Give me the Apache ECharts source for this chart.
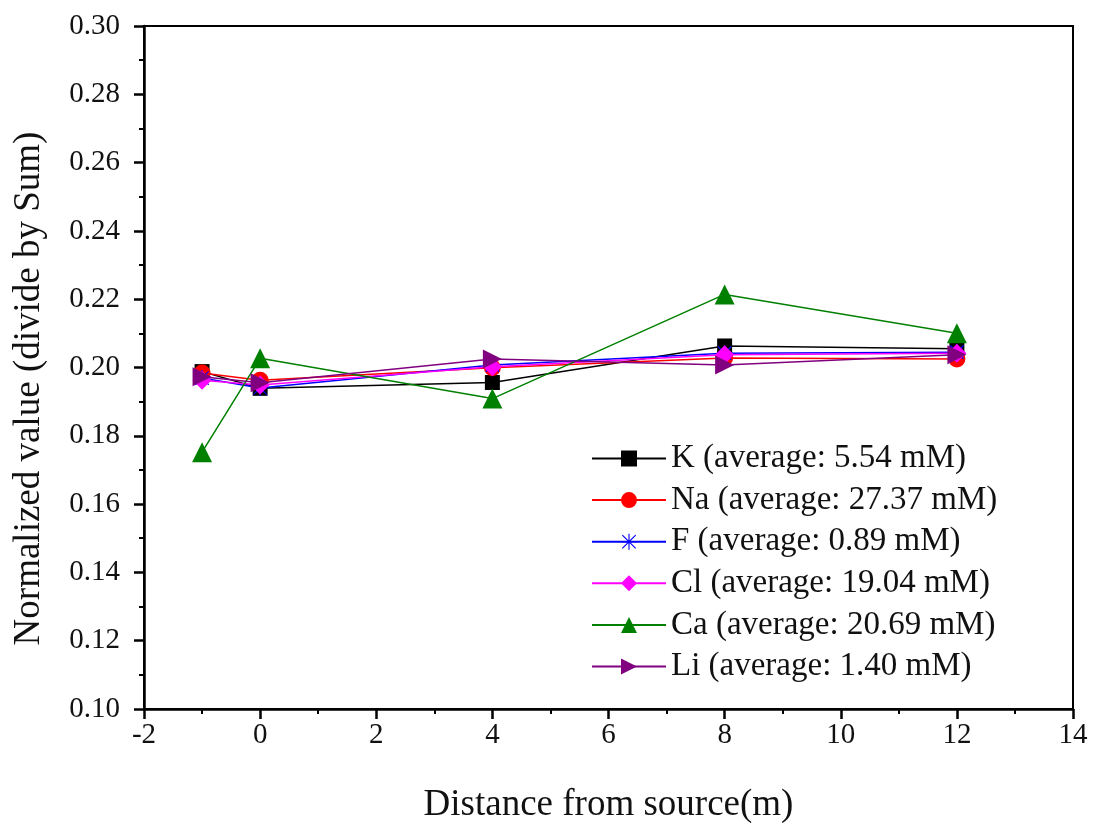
<!DOCTYPE html>
<html>
<head>
<meta charset="utf-8">
<script src="https://cdn.jsdelivr.net/npm/echarts@6/dist/echarts.min.js"></script>
<style>
  html, body { margin: 0; padding: 0; background: #fff; }
  #chart { width: 1093px; height: 823px; }
</style>
</head>
<body>
<div id="chart"></div>
<script>
// distance from source (m)
const distances = [-1, 0, 4, 8, 12];

const seriesNames = [
  "K (average: 5.54 mM)",
  "Na (average: 27.37 mM)",
  "F (average: 0.89 mM)",
  "Cl (average: 19.04 mM)",
  "Ca (average: 20.69 mM)",
  "Li (average: 1.40 mM)",
];

// normalized values
const kValues = [0.1988, 0.1939, 0.1956, 0.2063, 0.2055];
const naValues = [0.1984, 0.1963, 0.1999, 0.2028, 0.2025];
const fValues = [0.1969, 0.1940, 0.2007, 0.2042, 0.2045];
const clValues = [0.1963, 0.1949, 0.2002, 0.2037, 0.2042];
const caValues = [0.1752, 0.2027, 0.1909, 0.2214, 0.2100];
const liValues = [0.1973, 0.1955, 0.2025, 0.2007, 0.2037];

const FONT = "Liberation Serif";
const asterisk =
  "path://M9.3 0L10.7 0L10.7 20L9.3 20Z M0 9.3L20 9.3L20 10.7L0 10.7Z " +
  "M1.2 2.2L2.2 1.2L18.8 17.8L17.8 18.8Z M17.8 1.2L18.8 2.2L2.2 18.8L1.2 17.8Z";

function pairs(vals) {
  return distances.map((d, i) => [d, vals[i]]);
}

function line(name, vals, color, symbol, size) {
  return {
    name,
    type: "line",
    data: pairs(vals),
    symbol,
    symbolSize: size,
    lineStyle: { color, width: 1.5 },
    itemStyle: { color },
    z: 3,
  };
}

const chart = echarts.init(document.getElementById("chart"));
chart.setOption({
  animation: false,
  textStyle: { fontFamily: FONT },
  grid: {
    left: 144, right: 20, top: 26, bottom: 114,
    outerBoundsMode: "none",
    show: true, borderColor: "#000", borderWidth: 2,
  },
  legend: {
    orient: "vertical",
    left: 586,
    top: 437,
    itemWidth: 74,
    itemHeight: 20,
    itemGap: 8.6,
    textStyle: { fontFamily: FONT, fontSize: 33, color: "#111" },
    data: seriesNames,
  },
  xAxis: {
    type: "value",
    min: -2, max: 14, interval: 2,
    name: "Distance from source(m)",
    nameLocation: "middle",
    nameGap: 78,
    nameTextStyle: { fontFamily: FONT, fontSize: 37, color: "#111" },
    axisLine: { onZero: false, lineStyle: { color: "#000", width: 2.5 } },
    axisTick: { length: 10, lineStyle: { color: "#000", width: 2.5 } },
    minorTick: { show: true, splitNumber: 2, length: 5, lineStyle: { color: "#000", width: 2 } },
    splitLine: { show: false },
    axisLabel: { fontSize: 29, color: "#111", margin: 12, fontFamily: FONT },
  },
  yAxis: {
    type: "value",
    min: 0.1, max: 0.3, interval: 0.02,
    name: "Normalized value (divide by Sum)",
    nameLocation: "middle",
    nameGap: 96,
    nameTextStyle: { fontFamily: FONT, fontSize: 37, color: "#111", padding: [0, 42, 0, 0] },
    axisLine: { onZero: false, lineStyle: { color: "#000", width: 2.5 } },
    axisTick: { length: 10, lineStyle: { color: "#000", width: 2.5 } },
    minorTick: { show: true, splitNumber: 2, length: 5, lineStyle: { color: "#000", width: 2 } },
    splitLine: { show: false },
    axisLabel: { fontSize: 29, color: "#111", margin: 24, fontFamily: FONT, formatter: (v) => v.toFixed(2) },
  },
  series: [
    line(seriesNames[0], kValues, "#000000", "rect", 15),
    line(seriesNames[1], naValues, "#ff0000", "circle", 17),
    line(seriesNames[2], fValues, "#0000ff", asterisk, 16),
    line(seriesNames[3], clValues, "#ff00ff", "diamond", 19),
    line(seriesNames[4], caValues, "#008000", "triangle", 20),
    line(seriesNames[5], liValues, "#800080", "path://M0 0L20 10L0 20Z", 19),
  ],
});
</script>
</body>
</html>
